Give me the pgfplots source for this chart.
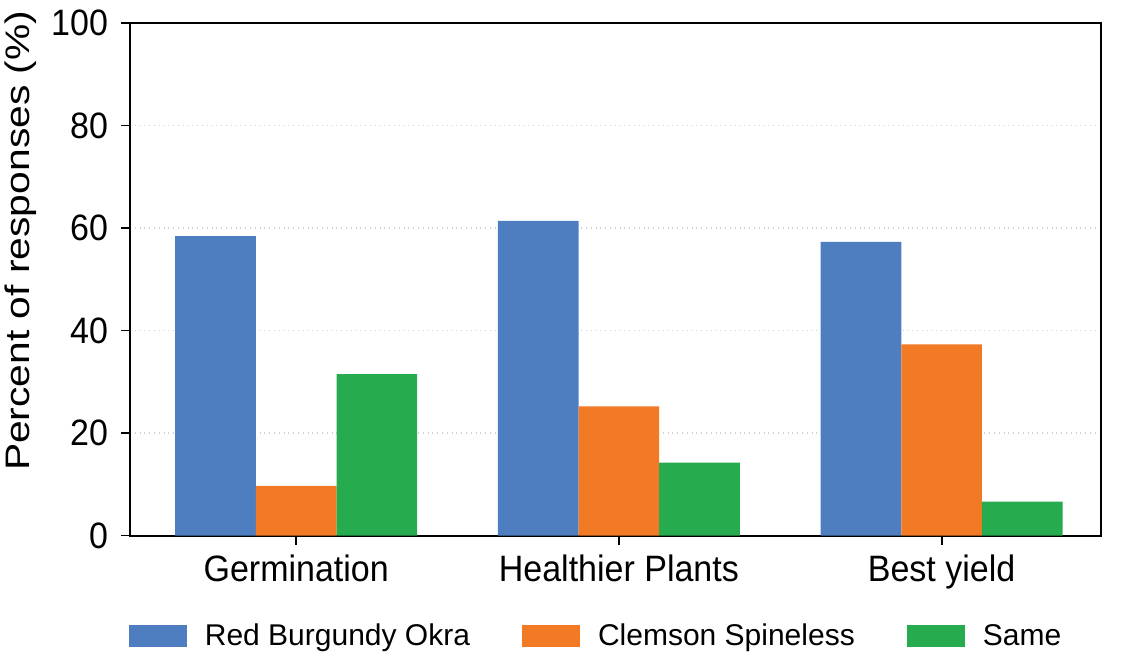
\documentclass[border=0pt]{standalone}
\usepackage{fontspec}
\setmainfont{Liberation Sans}
\usepackage{pgfplots}
\pgfplotsset{compat=1.18}
\definecolor{cblue}{HTML}{4F7EC0}
\definecolor{corange}{HTML}{F37A25}
\definecolor{cgreen}{HTML}{26AB4E}
\definecolor{cgrid}{HTML}{D0D0D0}
\begin{document}
\begin{tikzpicture}
\path[use as bounding box] (-65pt,-61.25pt) rectangle (496pt,267.75pt);
\begin{axis}[
  at={(0pt,0pt)}, anchor=south west,
  scale only axis, width=485.5pt, height=256.25pt,
  xmin=-0.515, xmax=2.494, ymin=0, ymax=100,
  xtick={0,1,2}, xticklabels={Germination,Healthier Plants,Best yield},
  ytick={0,20,40,60,80,100},
  /pgf/number format/assume math mode=true,
  tick label style={font=\fontsize{17}{20}\selectfont, yscale=1.08},
  yticklabel style={xshift=-3pt},
  xticklabel style={yshift=-1.5pt},
  tick align=outside, major tick length=4.5pt,
  tick style={line width=0.9pt, black},
  xtick pos=bottom, ytick pos=left,
  axis line style={line width=1pt},
  ymajorgrids, grid style={cgrid, dotted, line width=0.8pt},
  ylabel={Percent of responses (\%)},
  ylabel style={font=\fontsize{17}{20}\selectfont, at={(axis description cs:-0.113,0.575)}, anchor=center, xscale=1.2},
  ybar, bar width=0.25,
  legend style={at={(axis description cs:0.481,-0.197)}, anchor=center, draw=none, fill=none,
    legend columns=3, font=\fontsize{15}{18}\selectfont,
    /tikz/every even column/.append style={column sep=24pt},
    /tikz/every odd column/.append style={column sep=7pt}},
  legend image code/.code={\fill[#1] (0pt,-5.5pt) rectangle (29pt,5.5pt);},
]
\addplot[fill=cblue, draw=none, bar shift=-0.25] coordinates {(0,58.4) (1,61.4) (2,57.3)};
\addplot[fill=corange, draw=none, bar shift=0] coordinates {(0,9.7) (1,25.2) (2,37.3)};
\addplot[fill=cgreen, draw=none, bar shift=0.25] coordinates {(0,31.5) (1,14.2) (2,6.6)};
\legend{Red Burgundy Okra, Clemson Spineless, Same}
\end{axis}
\end{tikzpicture}
\end{document}
